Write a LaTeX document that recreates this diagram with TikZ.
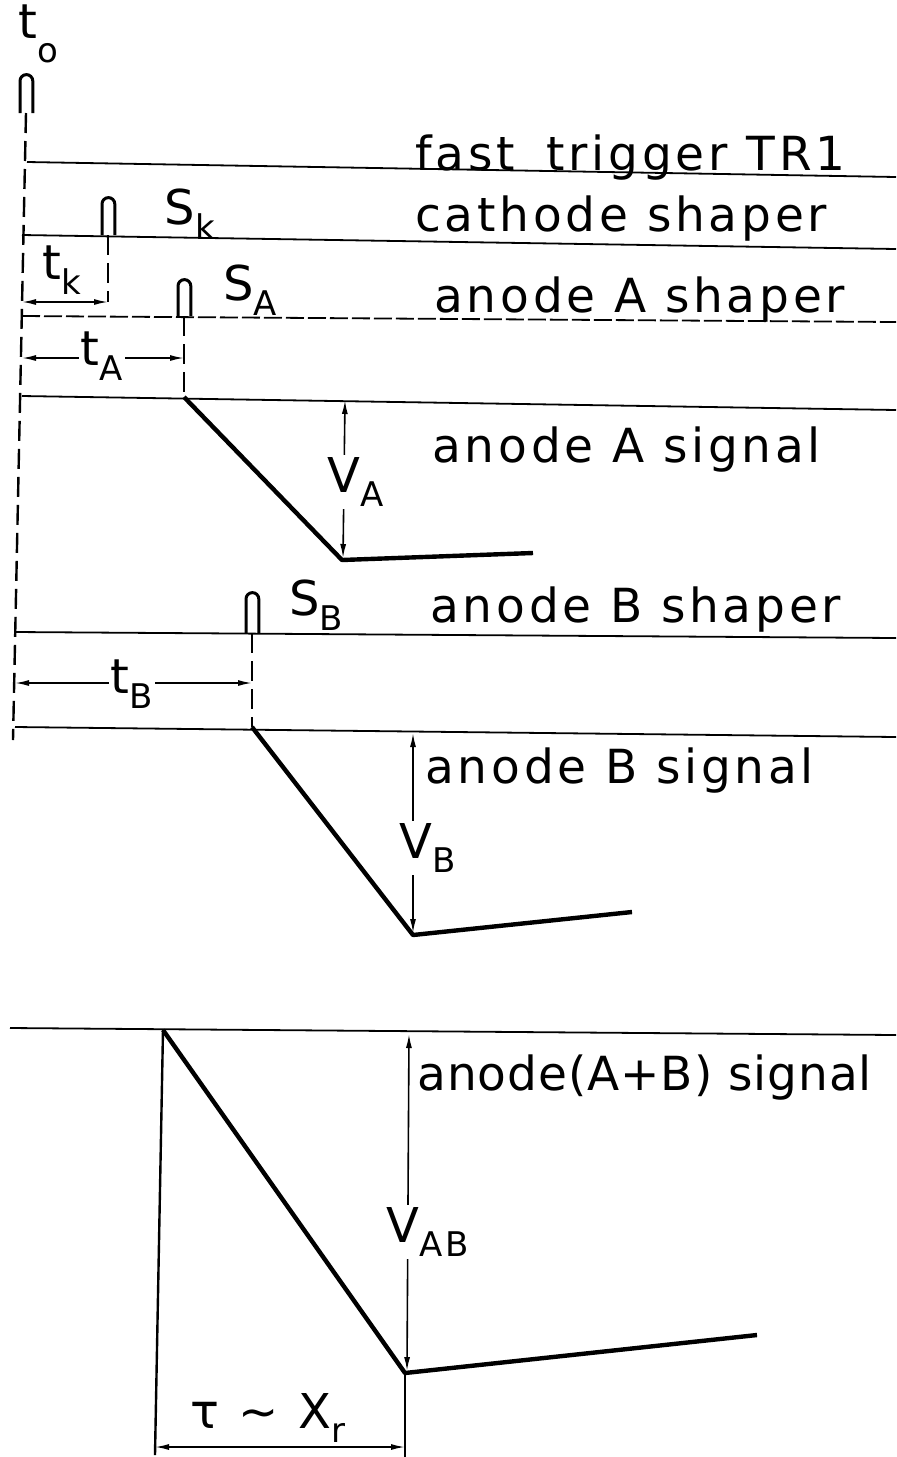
\documentclass[tikz,border=0pt]{standalone}
\usepackage{fontspec}
\setmainfont{DejaVu Sans}
\newfontfamily\lblfont[LetterSpace=8]{DejaVu Sans}
\newfontfamily\lblfontT[LetterSpace=2]{DejaVu Sans}
\usetikzlibrary{arrows.meta}
\newcommand\sbsc[2][-0.3em]{\raisebox{#1}{\fontsize{17}{20}\selectfont #2}}
\begin{document}
\begin{tikzpicture}[x=0.5pt,y=-0.5pt,
 lbl/.style={font=\lblfont\fontsize{23.5}{28}\selectfont, anchor=base west, inner sep=0pt},
 sym/.style={font=\lblfont\fontsize{24}{28}\selectfont, inner sep=1pt},
 symw/.style={sym, fill=white},
 rail/.style={line width=0.9pt},
 railD/.style={line width=0.9pt, dash pattern=on 9pt off 2pt},
 sig/.style={line width=2.2pt, line join=round},
 pls/.style={line width=1.5pt},
 vdsh/.style={line width=1.2pt, dash pattern=on 10pt off 4pt},
 dimA/.style={line width=0.8pt, {Latex[length=7pt,width=3pt]}-{Latex[length=7pt,width=3pt]}},
]
\fill[white] (0,0) rectangle (896,1457);
\useasboundingbox (0,0) rectangle (896,1457);

% ---- key points
\coordinate (t0b) at (26,113);
\coordinate (t0e) at (13,740);
\coordinate (skb) at (108,235);
\coordinate (skd) at (108,302);
\coordinate (sab) at (184,316);
\coordinate (sas) at (184,397);
\coordinate (sbb) at (252,633);
\coordinate (sbs) at (252,727);
\coordinate (aMin) at (342,560);
\coordinate (aEnd) at (533,553);
\coordinate (bMin) at (413,935);
\coordinate (bEnd) at (632,912);
\coordinate (abS) at (163,1030);
\coordinate (abMin) at (405,1373);
\coordinate (abEnd) at (757,1335);

% ---- rails
\draw[rail] (27,162) -- (896,177);
\draw[rail] (22,235) -- (896,249);
\draw[railD] (22,316) -- (896,322);
\draw[rail] (22,396) -- (896,410);
\draw[rail] (15,632) -- (896,638);
\draw[rail] (15,727) -- (896,737);
\draw[rail] (10,1028) -- (896,1035);

% ---- pulses
\draw[pls] (20,113) -- (20,81) arc[start angle=180,end angle=0,radius=3.2pt] -- (32.8,113);
\draw[pls] (102,235) -- (102,204) arc[start angle=180,end angle=0,radius=3.2pt] -- (114.8,235);
\draw[pls] (178,316) -- (178,286) arc[start angle=180,end angle=0,radius=3.2pt] -- (190.8,316);
\draw[pls] (246,633) -- (246,599) arc[start angle=180,end angle=0,radius=3.2pt] -- (258.8,633);

% ---- dashed verticals
\draw[vdsh] (t0b) -- (t0e);
\draw[vdsh] (skb) -- (skd);
\draw[vdsh] (sab) -- (sas);
\draw[vdsh] (sbb) -- (sbs);

% ---- signals
\draw[sig] (sas) -- (aMin) -- (aEnd);
\draw[sig] (sbs) -- (bMin) -- (bEnd);
\draw[sig] (abS) -- (abMin) -- (abEnd);
\draw[line width=1.2pt] (abS) -- (155,1455);
\draw[line width=1.2pt] (abMin) -- (405,1457);

% ---- dimension arrows
\draw[dimA] (22,302) -- (skd);
\draw[dimA] (22,358) -- (184,358);
\draw[dimA] (15,683) -- (252,683);
\draw[dimA] (345,400) -- (343,558);
\draw[dimA] (413,733) -- (413,933);
\draw[dimA] (409,1034) -- (407,1371);
\draw[dimA] (155,1447) -- (405,1447);

% ---- symbol labels
\node[sym] (lt0) at (38,34) {t\sbsc[-0.5em]{o}};
\node[sym] (ltk) at (62,270) {t\sbsc{k}};
\node[symw] (lta) at (102,356) {t\sbsc{A}};
\node[symw] (ltb) at (132,684) {t\sbsc{B}};
\node[sym] (lsk) at (190,214) {S\sbsc{k}};
\node[sym] (lsa) at (250,290) {S\sbsc{A}};
\node[sym] (lsb) at (316,605) {S\sbsc{B}};
\node[symw] (lva) at (356,482) {V\sbsc{A}};
\node[symw] (lvb) at (428,848) {V\sbsc{B}};
\node[symw] (lvab) at (428,1232) {V\sbsc{AB}};
\node[sym] (ltau) at (268,1418) {τ ∼ X\sbsc{r}};

% ---- row labels
\node[lbl] (r1) at (415,170) {fast\; trigger TR1};
\node[lbl] (r2) at (415,231) {cathode shaper};
\node[lbl] (r3) at (434,312) {anode A shaper};
\node[lbl] (r4) at (432,462) {anode A signal};
\node[lbl] (r5) at (430,622) {anode B shaper};
\node[lbl] (r6) at (425,783) {anode B signal};
\node[lbl, font=\lblfontT\fontsize{23.5}{28}\selectfont] (r7) at (417,1090) {anode(A+B) signal};
\end{tikzpicture}
\end{document}
